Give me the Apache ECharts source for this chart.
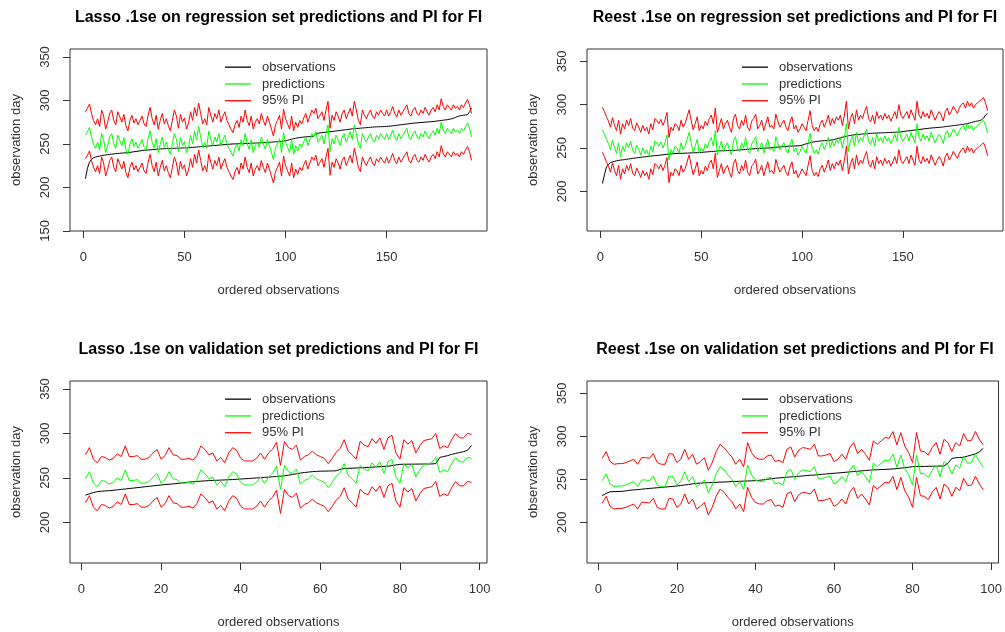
<!DOCTYPE html>
<html>
<head>
<meta charset="utf-8">
<script src="https://cdn.jsdelivr.net/npm/echarts@6/dist/echarts.min.js"></script>
<style>html,body{margin:0;padding:0;background:#fff}#c{width:1005px;height:632px}</style>
</head>
<body>
<div id="c"></div>
<script>
// ---------------- DATA ----------------
const titles = [
  'Lasso .1se on regression set predictions and PI for FI',
  'Reest .1se on regression set predictions and PI for FI',
  'Lasso .1se on validation set predictions and PI for FI',
  'Reest .1se on validation set predictions and PI for FI'
];
const legendNames = ['observations', 'predictions', '95% PI'];
const xTitle = 'ordered observations';
const yTitle = 'observation day';
const xTicksTop = [0, 50, 100, 150];
const xTicksBottom = [0, 20, 40, 60, 80, 100];
const yTicksTL = [150, 200, 250, 300, 350];
const yTicksOther = [200, 250, 300, 350];
// PI half-widths (upper/lower PI = prediction +/- half-width)
const piHalfWidth = [27, 26, 27, 26];

const obsTL = [210,222,229,232,234,235,235.5,236,236.5,237,
237.3,237.6,238,238.2,238.5,238.8,239,239.2,239.4,239.6,
239.8,240,240.3,240.6,241,241.3,241.6,242,242.3,242.6,
242.8,243,243.2,243.4,243.6,243.8,244,244.2,244.3,244.5,
244.6,244.7,244.8,244.9,245,245,245.1,245.2,245.3,245.4,
245.5,245.6,245.8,246,246.2,246.4,246.6,246.8,247,247.2,
247.4,247.6,247.8,248,248.2,248.4,248.6,248.8,249,249.2,
249.4,249.6,249.8,250,250,250.1,250.2,250.3,250.4,250.5,
250.6,250.7,250.8,250.9,251,251.1,251.2,251.3,251.4,251.5,
251.6,251.8,252,252.2,252.4,252.6,252.8,253,253.2,253.6,
254.2,254.8,255.4,256,256.5,257,257.3,257.6,257.9,258.1,
258.3,258.5,258.7,258.9,262,262.3,262.6,262.9,263.2,263.5,
263.8,264,264.3,264.6,264.9,265.2,265.5,265.8,266.1,266.4,
266.7,267,267.3,267.5,267.7,267.9,268.1,268.3,268.5,268.7,
268.9,269.1,269.3,269.5,269.6,269.7,269.8,269.9,270,270.1,
270.3,270.5,270.8,271.1,271.4,271.7,272,272.3,272.6,272.9,
273.2,273.5,273.8,274,274.2,274.4,274.6,274.8,275,275.2,
275.4,275.6,275.8,276.1,276.4,276.7,277,277.3,277.6,277.9,
278.3,278.8,279.5,280.5,281.5,282.2,282.7,283,283.3,283.6,
287,291];
const predTL = [260,264,269,258,250,245,252,243,262,255,
240,248,258,262,250,245,260,254,248,257,
244,238,250,256,247,252,245,250,255,246,
243,256,265,252,245,256,240,250,258,246,
252,244,238,250,262,255,241,257,248,253,
240,247,260,250,265,255,270,258,246,252,
245,265,256,248,258,252,262,248,255,260,
250,245,240,236,245,250,242,255,248,262,
250,244,255,240,248,252,246,258,250,244,
255,248,240,232,245,250,256,240,263,252,
246,240,255,238,248,242,250,246,253,258,
248,255,262,258,264,252,256,260,250,262,
272,241,256,250,260,255,248,258,262,252,
258,264,255,272,262,250,245,262,256,252,
258,262,255,252,260,256,262,258,255,262,
255,260,266,258,254,262,256,260,264,268,
258,255,262,265,258,256,262,258,265,260,
256,262,265,260,268,262,275,266,262,268,
265,262,268,264,266,262,268,265,270,274,
268,258];

const obsTR = [209,219,228,231,233,234,234.6,235.2,235.6,236,
236.3,236.6,237,237.3,237.6,238,238.3,238.6,238.9,239.2,
239.5,239.8,240,240.3,240.6,240.9,241.1,241.3,241.6,241.9,
242.1,242.4,242.7,242.9,243.1,243.3,243.5,243.6,243.7,243.8,
243.9,244,244.1,244.2,244.3,244.4,244.5,244.6,244.7,244.9,
245.1,245.3,245.5,245.7,245.9,246.1,246.3,246.5,246.6,246.7,
246.8,246.9,247,247,247.1,247.2,247.3,247.5,247.7,247.9,
248.1,248.3,248.5,248.7,248.9,249.1,249.3,249.4,249.5,249.6,
249.7,249.8,250,250.2,250.4,250.6,250.8,251,251.2,251.4,
251.6,251.8,252,252.1,252.2,252.3,252.4,252.5,252.7,253.2,
254,254.8,255.4,256,256.6,257.1,257.5,257.8,258,258.2,
258.4,258.6,258.8,259,259.2,259.8,260.5,261.2,261.8,262.4,
263,263.5,264,264.5,264.9,265.2,265.5,265.7,265.9,266.1,
266.3,266.5,266.7,266.9,267,267.1,267.2,267.3,267.4,267.5,
267.6,267.7,267.8,267.9,268,268.1,268.2,268.4,268.6,268.9,
269.2,269.5,269.8,270.1,270.4,270.7,271,271.3,271.6,271.9,
272.2,272.5,272.8,273,273.2,273.4,273.6,273.8,274,274.3,
274.6,274.9,275.2,275.5,275.8,276.1,276.4,276.7,277,277.3,
277.7,278.2,278.8,279.4,280,280.6,281.1,281.5,282.5,284.5,
288,290];
const predTR = [271,266,260,255,248,259,250,244,256,240,
252,246,256,250,258,247,244,253,248,242,
250,244,248,240,252,245,258,256,252,257,
250,256,265,236,248,244,252,250,244,256,
248,252,260,268,256,245,252,260,244,250,
246,255,250,258,262,252,270,242,250,258,
246,252,256,248,242,258,263,250,246,256,
250,262,248,244,255,258,263,246,250,256,
244,252,260,248,250,246,263,255,248,252,
256,248,244,254,260,246,250,242,246,252,
248,244,256,267,250,244,248,243,252,256,
248,254,262,250,258,252,260,256,262,250,
262,278,246,258,264,252,268,256,262,258,
266,272,258,254,262,252,266,258,262,256,
264,258,262,255,260,266,258,274,262,258,
262,266,258,268,262,256,278,262,258,266,
260,264,258,268,262,256,262,266,262,255,
266,270,262,266,272,268,264,270,274,276,
270,278,272,276,270,274,276,278,280,282,
276,267];

const obsBL = [230.5,232,233.5,234.5,235,235.3,235.6,236,236.5,237,
237.5,238,238.5,239,239.5,240,240.5,241,241.5,242,
242.5,242.8,243.2,243.7,244.2,244.7,245.2,245.6,246,246.3,
246.6,246.9,247.1,247.3,247.5,247.7,247.9,248.1,248.4,248.7,
249,249.3,249.6,249.9,250.2,250.5,250.8,251.2,251.6,252,
252.3,253,253.8,254.6,255.4,256,256.5,257,257.3,257.5,
257.6,257.7,257.8,258,259.5,260.5,260.7,260.9,261.1,261.3,
261.5,261.7,262,262.3,262.6,262.9,263.2,263.8,264.5,265.2,
265.3,265.4,265.4,265.5,265.5,265.6,265.6,265.7,266,273,
274,275,276.5,277.5,278.5,279.5,281,286.5];
const predBL = [249,257,244,240,247,246,243,245,250,247,
259,247,247,248,244,244,246,251,255,244,
248,257,249,248,244,244,245,243,248,259,
255,249,251,242,246,240,251,257,254,245,
242,242,242,245,251,244,251,255,263,237,
264,257,255,260,243,247,249,253,249,247,
245,239,245,252,256,266,253,249,244,264,
260,258,267,262,268,255,268,271,251,244,
266,261,265,251,259,265,266,267,273,256,
259,257,266,273,268,268,273,272];

const obsBR = [231,233.7,235.5,235.7,235.8,236,236.5,237.3,237.7,238,
238.5,239,239.4,239.8,240.2,240.6,241,241.4,241.8,242.2,
242.8,243.4,244,244.7,245.3,245.6,245.9,246.1,246.3,246.5,
246.7,246.9,247.1,247.3,247.5,247.7,247.9,248,248.2,248.4,
248.9,249.4,250,250.6,251.2,251.6,252,252.4,252.8,253.1,
253.5,253.9,254.3,254.7,255,255.4,255.8,256.2,256.6,257,
257.4,257.8,258.2,258.6,259,259.4,259.8,260.2,260.6,260.9,
261.1,261.3,261.5,261.8,262,262.5,263,263.5,264,264.7,
264.8,264.9,265,265.1,265.2,265.3,265.4,265.5,268.6,274.4,
275,275.4,275.6,277,278.3,279.5,282,286];
const predBR = [248.4,256.2,244.6,241.5,242.2,242.2,243.4,245.3,247.3,241.5,
249.2,249.2,248.4,253.9,243.4,241.5,241.5,253.9,253.1,243.4,
247.3,258.9,247.3,253.1,241.5,244.6,249.2,234.5,243.4,256.2,
264.7,260.9,255,250,241.5,247.3,238.4,266.7,255,249.2,
247.3,247.3,251.2,252.3,244.6,246.1,243.4,258.9,261.6,250,
257.8,260.9,260.1,258.9,264.7,251.2,251.2,252.3,253.9,244.6,
247.3,253.1,247.3,260.9,266.7,253.9,258.9,253.1,246.1,268.6,
264.7,268.6,272.5,271.7,279.5,264,278.3,262.8,255,243.4,
278.3,256.9,256.2,252.3,260.9,266.7,253.1,270.5,266.7,256.2,
266.7,262.8,277.1,268.6,269.4,279.5,270.5,264];

// ---------------- CHART ----------------
const FONT = '"Liberation Sans", Arial, sans-serif';
const panels = [
  {obs: obsTL, pred: predTL, grid: {left: 70, top: 49, width: 417, height: 182}, x: [-6.64, 199.64], y: [149.8, 359.2], xt: xTicksTop, yt: yTicksTL},
  {obs: obsTR, pred: predTR, grid: {left: 587, top: 49, width: 416, height: 182}, x: [-6.64, 199.64], y: [154.2, 364.2], xt: xTicksTop, yt: yTicksOther},
  {obs: obsBL, pred: predBL, grid: {left: 70, top: 381, width: 417, height: 182}, x: [-2.88, 101.88], y: [154.2, 359], xt: xTicksBottom, yt: yTicksOther},
  {obs: obsBR, pred: predBR, grid: {left: 587, top: 381, width: 416, height: 182}, x: [-2.88, 101.88], y: [152.7, 364.3], xt: xTicksBottom, yt: yTicksOther}
];

const grid = [], xAxis = [], yAxis = [], series = [], title = [], legend = [];
const axisCol = '#333';
panels.forEach((p, k) => {
  grid.push(Object.assign({show: true, borderColor: '#333', borderWidth: 1, backgroundColor: 'transparent'}, p.grid));
  xAxis.push({
    type: 'value', gridIndex: k, min: p.x[0], max: p.x[1],
    axisLine: {show: false, onZero: false},
    axisTick: {show: true, length: 7, customValues: p.xt, lineStyle: {color: axisCol}},
    axisLabel: {customValues: p.xt, margin: 20, fontSize: 13, color: axisCol, fontFamily: FONT},
    splitLine: {show: false},
    name: xTitle, nameLocation: 'middle', nameGap: 53,
    nameTextStyle: {fontSize: 13, color: axisCol, fontFamily: FONT}
  });
  yAxis.push({
    type: 'value', gridIndex: k, min: p.y[0], max: p.y[1],
    axisLine: {show: false, onZero: false},
    axisTick: {show: true, length: 7, customValues: p.yt, lineStyle: {color: axisCol}},
    axisLabel: {customValues: p.yt, rotate: 90, margin: 18, fontSize: 13, color: axisCol, fontFamily: FONT},
    splitLine: {show: false},
    name: yTitle, nameLocation: 'middle', nameGap: 47, nameRotate: 90,
    nameTextStyle: {fontSize: 13, color: axisCol, fontFamily: FONT}
  });
  const upper = p.pred.map(v => v + piHalfWidth[k]);
  const lower = p.pred.map(v => v - piHalfWidth[k]);
  const mk = (name, arr, color) => ({
    type: 'line', name: name, xAxisIndex: k, yAxisIndex: k,
    data: arr.map((v, i) => [i + 1, v]),
    symbol: 'none', lineStyle: {width: 1, color: color}, itemStyle: {color: color},
    animation: false, silent: true
  });
  series.push(mk(legendNames[0], p.obs, '#000000'));
  series.push(mk(legendNames[1], p.pred, '#00ff00'));
  series.push(mk(legendNames[2], upper, '#ff0000'));
  series.push(mk(legendNames[2], lower, '#ff0000'));
  const cx = p.grid.left + p.grid.width / 2;
  title.push({
    text: titles[k], left: cx, top: p.grid.top - 39, textAlign: 'center', padding: 0,
    textStyle: {fontSize: 16, fontWeight: 'bold', color: '#000', fontFamily: FONT}
  });
  legend.push({
    data: legendNames, orient: 'vertical', left: p.grid.left + 155, top: p.grid.top + 10,
    icon: 'rect', itemWidth: 26, itemHeight: 1.3, itemGap: 0.5, selectedMode: false,
    padding: 0,
    textStyle: {fontSize: 13, color: axisCol, fontFamily: FONT, lineHeight: 16.3, padding: [0, 0, 0, 6]}
  });
});

const chart = echarts.init(document.getElementById('c'), null, {renderer: 'canvas'});
chart.setOption({animation: false, title, legend, grid, xAxis, yAxis, series});
</script>
</body>
</html>
